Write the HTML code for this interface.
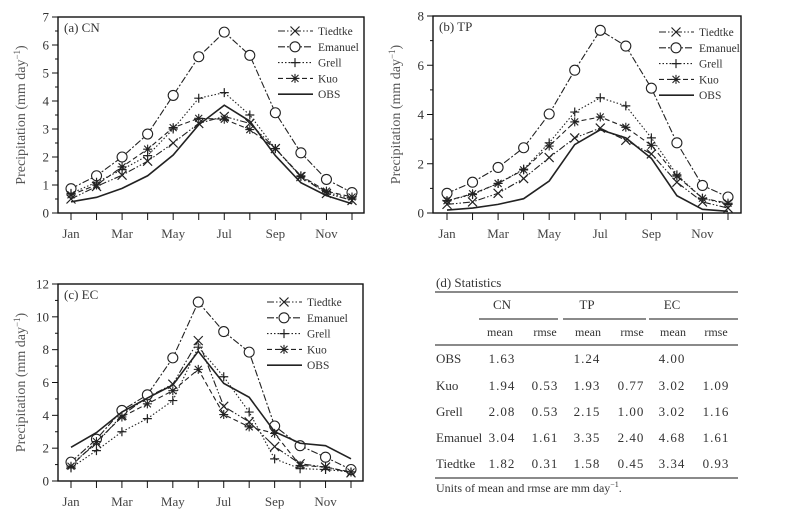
<!DOCTYPE html>
<html><head><meta charset="utf-8"><style>
body{margin:0;background:#fff;}
svg{display:block;font-family:"Liberation Serif",serif;}
</style></head><body>
<svg id="fig" width="789" height="519" viewBox="0 0 789 519"></svg>
<script>
const months = ["Jan","Feb","Mar","Apr","May","Jun","Jul","Aug","Sep","Oct","Nov","Dec"];
const monthLabels = ["Jan","","Mar","","May","","Jul","","Sep","","Nov",""];
const seriesNames = ["Tiedtke","Emanuel","Grell","Kuo","OBS"];
// Panel (a) CN
const cnTiedtke = [0.5,0.95,1.35,1.85,2.5,3.2,3.45,3.2,2.3,1.3,0.7,0.45];
const cnEmanuel = [0.87,1.33,2.0,2.82,4.2,5.58,6.46,5.63,3.58,2.15,1.2,0.73];
const cnGrell = [0.7,1.1,1.55,2.05,3.0,4.1,4.3,3.5,2.3,1.3,0.75,0.5];
const cnKuo = [0.65,1.0,1.65,2.28,3.05,3.38,3.35,2.98,2.3,1.33,0.78,0.57];
const cnObs = [0.4,0.56,0.88,1.33,2.07,3.15,3.85,3.28,2.05,1.08,0.62,0.33];
const cnTicks = [0,1,2,3,4,5,6,7];
// Panel (b) TP
const tpTiedtke = [0.35,0.45,0.8,1.4,2.25,3.05,3.45,2.95,2.4,1.25,0.45,0.2];
const tpEmanuel = [0.8,1.25,1.85,2.65,4.02,5.8,7.42,6.78,5.07,2.85,1.12,0.65];
const tpGrell = [0.5,0.75,1.2,1.78,2.85,4.1,4.68,4.35,3.05,1.55,0.6,0.35];
const tpKuo = [0.5,0.78,1.2,1.75,2.72,3.7,3.9,3.48,2.75,1.5,0.6,0.4];
const tpObs = [0.12,0.2,0.35,0.58,1.3,2.78,3.38,3.05,2.22,0.7,0.15,0.07];
const tpTicks = [0,2,4,6,8];
// Panel (c) EC
const ecTiedtke = [1.0,2.3,4.0,5.1,5.9,8.55,4.55,3.6,2.1,1.05,0.85,0.5];
const ecEmanuel = [1.15,2.55,4.3,5.25,7.5,10.9,9.1,7.85,3.35,2.15,1.45,0.7];
const ecGrell = [0.8,1.85,3.0,3.8,4.9,8.15,6.35,4.2,1.35,0.75,0.7,0.55];
const ecKuo = [0.9,2.4,3.9,4.7,5.5,6.8,4.05,3.3,2.9,0.95,0.85,0.55];
const ecObs = [2.05,2.95,4.2,5.05,5.85,7.9,5.95,5.1,3.0,2.3,2.15,1.35];
const ecTicks = [0,2,4,6,8,10,12];

const NS="http://www.w3.org/2000/svg";
const svg=document.getElementById('fig');
function mk(tag,attrs,parent){const e=document.createElementNS(NS,tag);for(const k in attrs)e.setAttribute(k,attrs[k]);(parent||svg).appendChild(e);return e;}
const dashes={Tiedtke:"7,2,1.5,2,1.5,2",Emanuel:"7,2,2,2",Grell:"1.5,2",Kuo:"5,3",OBS:""};
function marker(g,name,x,y){
  const s=4.5;
  if(name==="Tiedtke"){mk('path',{d:`M${x-s} ${y-s}L${x+s} ${y+s}M${x-s} ${y+s}L${x+s} ${y-s}`,stroke:'#222','stroke-width':1.2},g);}
  else if(name==="Emanuel"){mk('circle',{cx:x,cy:y,r:5,fill:'#fff',stroke:'#222','stroke-width':1.1},g);}
  else if(name==="Grell"){mk('path',{d:`M${x-s} ${y}L${x+s} ${y}M${x} ${y-s}L${x} ${y+s}`,stroke:'#222','stroke-width':1.2},g);}
  else if(name==="Kuo"){mk('path',{d:`M${x-s} ${y}L${x+s} ${y}M${x} ${y-s}L${x} ${y+s}M${x-3.5} ${y-3.5}L${x+3.5} ${y+3.5}M${x-3.5} ${y+3.5}L${x+3.5} ${y-3.5}`,stroke:'#222','stroke-width':1.1},g);}
}
function panel(o){
  const g=mk('g',{});
  
  
  const ymax=o.ticks[o.ticks.length-1];
  const X=i=>o.x0+(o.x1-o.x0)*i/11;
  const Y=v=>o.b-(o.b-o.t)*v/ymax;
  const box=mk('rect',{x:o.l,y:o.t,width:o.r-o.l,height:o.b-o.t,fill:'none',stroke:'#111','stroke-width':1.4},g);
  
  
  const step=o.ticks[1]-o.ticks[0];
  o.ticks.forEach((v,i)=>{
    mk('line',{x1:o.l-6,x2:o.l,y1:Y(v),y2:Y(v),stroke:'#111','stroke-width':1},g);
    const t=mk('text',{x:o.l-9,y:Y(v)+4.5,'text-anchor':'end','font-size':13,fill:'#333'},g);
    t.textContent=v;
    
    
    if(i<o.ticks.length-1){const m=v+step/2;mk('line',{x1:o.l-3,x2:o.l,y1:Y(m),y2:Y(m),stroke:'#111','stroke-width':1},g);}
  });
  months.forEach((m,i)=>{
    mk('line',{x1:X(i),x2:X(i),y1:o.b,y2:o.b+7,stroke:'#111','stroke-width':1},g);
    if(monthLabels[i]){const t=mk('text',{x:X(i),y:o.b+25,'text-anchor':'middle','font-size':13,fill:'#444'},g);t.textContent=monthLabels[i];
      
      }
  });
  const yl=mk('text',{x:0,y:0,transform:`translate(${o.l-33},${(o.t+o.b)/2}) rotate(-90)`,'text-anchor':'middle','font-size':14,fill:'#555'},g);
  yl.innerHTML='Precipitation (mm day<tspan dy="-5" font-size="9">−1</tspan><tspan dy="5">)</tspan>';
  
  
  const ttl=mk('text',{x:o.l+6,y:o.t+15,'font-size':13,fill:'#333'},g);
  ttl.textContent=o.title;
  
  
  seriesNames.forEach((n,si)=>{
    const vals=o.data[si];
    const sg=mk('g',{},g);
    
    
    const pts=vals.map((v,i)=>X(i)+','+Y(v)).join(' ');
    mk('polyline',{points:pts,fill:'none',stroke:'#222','stroke-width':n==="OBS"?1.6:1.1,'stroke-dasharray':dashes[n]},sg);
    vals.forEach((v,i)=>marker(sg,n,X(i),Y(v)));
    const ly=o.ly+si*15.8;
    const lg=mk('g',{},g);
    
    
    mk('line',{x1:o.lx,x2:o.lx+35,y1:ly,y2:ly,stroke:'#222','stroke-width':n==="OBS"?1.6:1.1,'stroke-dasharray':dashes[n]},lg);
    marker(lg,n,o.lx+17,ly);
    const lt=mk('text',{x:o.lx+40,y:ly+4,'font-size':11.5,fill:'#333'},lg);
    lt.textContent=n;
  });
}
panel({name:'panel-a-cn',title:'(a)  CN',l:58,r:364,t:17,b:213,x0:71,x1:352,ticks:cnTicks,data:[cnTiedtke,cnEmanuel,cnGrell,cnKuo,cnObs],lx:278,ly:31});
panel({name:'panel-b-tp',title:'(b)  TP',l:433,r:741,t:16,b:213,x0:447,x1:728,ticks:tpTicks,data:[tpTiedtke,tpEmanuel,tpGrell,tpKuo,tpObs],lx:659,ly:32});
panel({name:'panel-c-ec',title:'(c)  EC',l:58,r:363,t:284,b:481,x0:71,x1:351,ticks:ecTicks,data:[ecTiedtke,ecEmanuel,ecGrell,ecKuo,ecObs],lx:267,ly:302});
</script>
<svg width="789" height="519" style="position:absolute;left:0;top:0">
<g font-family="Liberation Serif, serif" font-size="13" fill="#333">
<text x="436" y="287">(d)  Statistics</text>
<line x1="435" x2="738" y1="292" y2="292" stroke="#444" stroke-width="1.3"/>
<text x="502" y="309" text-anchor="middle">CN</text>
<text x="587" y="309" text-anchor="middle">TP</text>
<text x="672" y="309" text-anchor="middle">EC</text>
<line x1="479" x2="558" y1="319" y2="319" stroke="#444" stroke-width="1.3"/>
<line x1="563" x2="646" y1="319" y2="319" stroke="#444" stroke-width="1.3"/>
<line x1="649" x2="738" y1="319" y2="319" stroke="#444" stroke-width="1.3"/>
<g text-anchor="middle" font-size="12">
<text x="500" y="336">mean</text><text x="545" y="336">rmse</text>
<text x="588" y="336">mean</text><text x="632" y="336">rmse</text>
<text x="673" y="336">mean</text><text x="716" y="336">rmse</text>
</g>
<line x1="435" x2="738" y1="345" y2="345" stroke="#444" stroke-width="1.3"/>
<g text-anchor="middle" letter-spacing="1">
<text x="436" y="363" text-anchor="start" letter-spacing="0">OBS</text><text x="502" y="363">1.63</text><text x="587" y="363">1.24</text><text x="672" y="363">4.00</text>
<text x="436" y="390" text-anchor="start" letter-spacing="0">Kuo</text><text x="502" y="390">1.94</text><text x="545" y="390">0.53</text><text x="587" y="390">1.93</text><text x="631" y="390">0.77</text><text x="672" y="390">3.02</text><text x="716" y="390">1.09</text>
<text x="436" y="416" text-anchor="start" letter-spacing="0">Grell</text><text x="502" y="416">2.08</text><text x="545" y="416">0.53</text><text x="587" y="416">2.15</text><text x="631" y="416">1.00</text><text x="672" y="416">3.02</text><text x="716" y="416">1.16</text>
<text x="436" y="442" text-anchor="start" letter-spacing="0">Emanuel</text><text x="502" y="442">3.04</text><text x="545" y="442">1.61</text><text x="587" y="442">3.35</text><text x="631" y="442">2.40</text><text x="672" y="442">4.68</text><text x="716" y="442">1.61</text>
<text x="436" y="468" text-anchor="start" letter-spacing="0">Tiedtke</text><text x="502" y="468">1.82</text><text x="545" y="468">0.31</text><text x="587" y="468">1.58</text><text x="631" y="468">0.45</text><text x="672" y="468">3.34</text><text x="716" y="468">0.93</text>
</g>
<line x1="435" x2="738" y1="478" y2="478" stroke="#444" stroke-width="1.3"/>
<text x="436" y="492" font-size="12">Units of mean and rmse are mm day<tspan dy="-5" font-size="8">−1</tspan><tspan dy="5">.</tspan></text>
</g>
</svg>
</body></html>
